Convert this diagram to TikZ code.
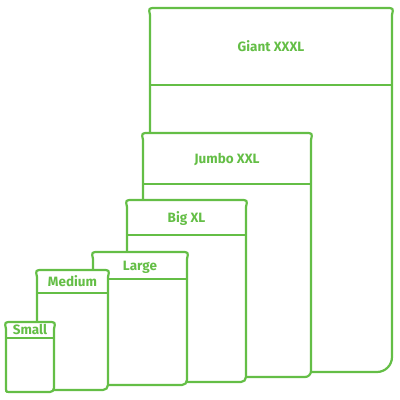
\documentclass[tikz,border=0pt]{standalone}
\usepackage{fontspec}
\setmainfont{Fira Sans}
\definecolor{baggreen}{RGB}{100,190,70}
\tikzset{
  bagline/.style={draw=baggreen,line width=2.2pt,fill=white,line join=round},
  bandline/.style={draw=baggreen,line width=2.2pt},
  lbl/.style={text=baggreen,font=\fontsize{13.5}{16}\selectfont\bfseries,inner sep=0pt,text height=0.69em,text depth=0pt,anchor=center}
}
% #1 l, #2 t, #3 r, #4 b, #5 band, #6 bottom-right radius, #7 name, #8 label
\newcommand\bagshape[8]{%
  \path[bagline] (#1,#2+7) .. controls (#1-1.5,#2) .. (#1+6,#2) -- (#3-6,#2) .. controls (#3+1.5,#2) .. (#3,#2+7)
     -- (#3,#4-#6) .. controls (#3,#4-0.45*#6) and (#3-0.45*#6,#4) .. (#3-#6,#4) -- (#1+3,#4) .. controls (#1,#4) .. (#1,#4-3) -- cycle;
  \draw[bandline] (#1,#5) -- (#3,#5);
  \node[lbl] (#7) at ({(#1+#3)/2},{(#2+#5)/2+1.5}) {#8};
}
\begin{document}
\begin{tikzpicture}[x=1pt,y=-1pt]
\useasboundingbox (0,0) rectangle (400,400);
\bagshape{150}{8}{392}{372}{85}{15}{giant}{Giant XXXL}
\bagshape{143}{133}{311}{377}{184}{6}{jumbo}{Jumbo XXL}
\bagshape{127}{200}{246}{382}{235}{5}{big}{Big XL}
\bagshape{93}{252}{187}{385}{279}{5}{large}{Large}
\bagshape{37}{270}{108}{390}{293}{5}{medium}{Medium}
\bagshape{6}{322}{54}{392}{338}{4}{small}{Small}
\end{tikzpicture}
\end{document}
